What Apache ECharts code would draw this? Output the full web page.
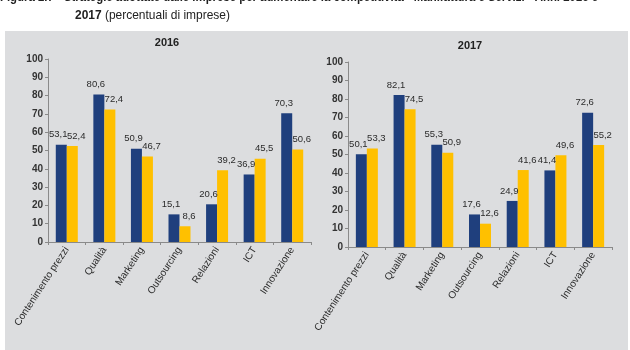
<!DOCTYPE html>
<html>
<head>
<meta charset="utf-8">
<script src="https://cdn.jsdelivr.net/npm/echarts@6/dist/echarts.min.js"></script>
<style>html,body{margin:0;padding:0;background:#fff}#c{width:630px;height:350px}</style>
</head>
<body>
<div id="c"></div>
<script>
const categories = ['Contenimento prezzi','Qualità','Marketing','Outsourcing','Relazioni','ICT','Innovazione'];
const blue2016 = [53.1, 80.6, 50.9, 15.1, 20.6, 36.9, 70.3];
const yellow2016 = [52.4, 72.4, 46.7, 8.6, 39.2, 45.5, 50.6];
const blue2017 = [50.1, 82.1, 55.3, 17.6, 24.9, 41.4, 72.6];
const yellow2017 = [53.3, 74.5, 50.9, 12.6, 41.6, 49.6, 55.2];
const panelTitles = ['2016', '2017'];
const headerLine1 = 'Figura 2.7 - Strategie adottate dalle imprese per aumentare la competitività - Manifattura e Servizi - Anni 2016 e';
const headerLine2Bold = '2017';
const headerLine2 = ' (percentuali di imprese)';
const yTicks = {min: 0, max: 100, interval: 10};

const BLUE = '#1f3f7d', YELLOW = '#ffc000', TXT = '#2b2b2b';
const FONT = 'Liberation Sans, Arial, sans-serif';
const fmt = p => p.value.toFixed(1).replace('.', ',');

// text measurement for the condensed header
const ctx = document.createElement('canvas').getContext('2d');
function w(text, font) { ctx.font = font; return ctx.measureText(text).width; }
const F1 = 'bold 13px Liberation Sans';
const F2 = '13px Liberation Sans';
const s1 = 598 / w(headerLine1, F1);
const wb = w(headerLine2Bold, F1), wn = w(headerLine2, F2);
const s2 = 155 / (wb + wn);

function xAxis(gi) {
  return {
    type: 'category', gridIndex: gi, data: categories,
    axisLine: {lineStyle: {color: '#8a8a8a', width: 1}},
    axisTick: {show: true, length: 3, lineStyle: {color: '#8a8a8a'}},
    axisLabel: {rotate: 57, fontSize: 10, color: TXT, fontFamily: FONT, margin: 6, interval: 0}
  };
}
function yAxis(gi) {
  return {
    type: 'value', gridIndex: gi, min: yTicks.min, max: yTicks.max, interval: yTicks.interval,
    splitLine: {show: false},
    axisLine: {show: true, lineStyle: {color: '#8a8a8a'}},
    axisTick: {show: true, length: 3, lineStyle: {color: '#8a8a8a'}},
    axisLabel: {fontSize: 10, fontWeight: 'bold', color: '#333', fontFamily: FONT, margin: 5}
  };
}
function bar(gi, data, color, dx) {
  return {
    type: 'bar', xAxisIndex: gi, yAxisIndex: gi, data: data, barWidth: 11, barGap: '0%',
    itemStyle: {color: color},
    label: {show: true, position: 'top', distance: 5, offset: [dx, 0], formatter: fmt,
      fontSize: 9.5, color: TXT, fontFamily: FONT}
  };
}

const chart = echarts.init(document.getElementById('c'));
chart.setOption({
  animation: false,
  backgroundColor: '#ffffff',
  graphic: [
    {type: 'rect', x: 5, y: 31, shape: {width: 623, height: 320}, style: {fill: '#dcdddf'}, z: -10},
    {type: 'text', x: 0, y: -3, scaleX: s1, style: {text: headerLine1, font: F1, fill: '#222', verticalAlign: 'middle'}},
    {type: 'text', x: 75, y: 15, scaleX: s2, style: {text: headerLine2Bold, font: F1, fill: '#222', verticalAlign: 'middle'}},
    {type: 'text', x: 75 + wb * s2, y: 15, scaleX: s2, style: {text: headerLine2, font: F2, fill: '#222', verticalAlign: 'middle'}}
  ],
  title: [
    {text: panelTitles[0], left: 167, top: 37, padding: 0, textAlign: 'center', textStyle: {fontSize: 11, fontWeight: 'bold', color: '#222', fontFamily: FONT}},
    {text: panelTitles[1], left: 470, top: 40, padding: 0, textAlign: 'center', textStyle: {fontSize: 11, fontWeight: 'bold', color: '#222', fontFamily: FONT}}
  ],
  grid: [
    {left: 48, right: 319, top: 59, bottom: 108},
    {left: 348, right: 18, top: 62, bottom: 103}
  ],
  xAxis: [xAxis(0), xAxis(1)],
  yAxis: [yAxis(0), yAxis(1)],
  series: [
    bar(0, blue2016, BLUE, -3), bar(0, yellow2016, YELLOW, 4),
    bar(1, blue2017, BLUE, -3), bar(1, yellow2017, YELLOW, 4)
  ]
});
</script>
</body>
</html>
